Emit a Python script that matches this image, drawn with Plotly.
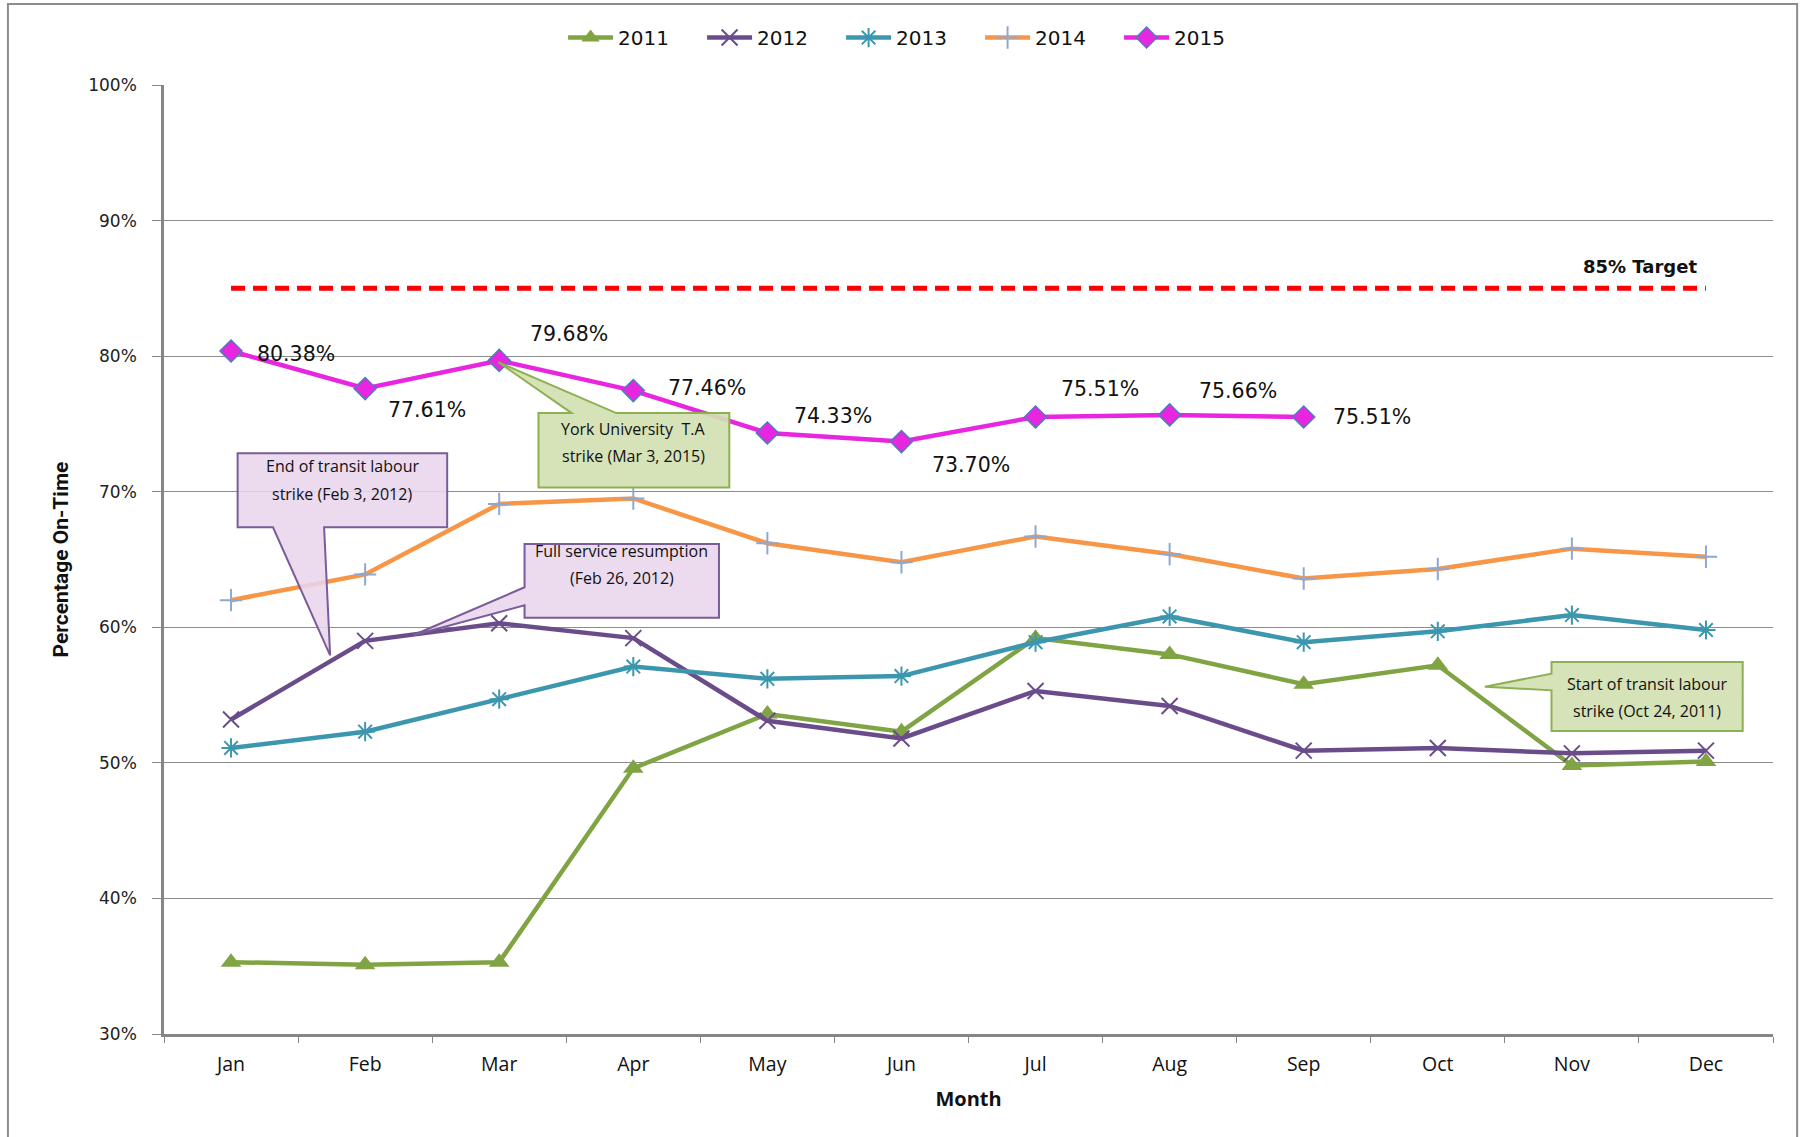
import plotly.graph_objects as go

months = ["Jan", "Feb", "Mar", "Apr", "May", "Jun", "Jul", "Aug", "Sep", "Oct", "Nov", "Dec"]
y2011 = [35.3, 35.1, 35.3, 49.6, 53.6, 52.3, 59.2, 58.0, 55.8, 57.2, 49.8, 50.1]
y2012 = [53.2, 59.0, 60.3, 59.2, 53.1, 51.8, 55.3, 54.2, 50.9, 51.1, 50.7, 50.9]
y2013 = [51.1, 52.3, 54.7, 57.1, 56.2, 56.4, 58.9, 60.8, 58.9, 59.7, 60.9, 59.8]
y2014 = [62.0, 63.9, 69.1, 69.5, 66.2, 64.8, 66.7, 65.4, 63.6, 64.3, 65.8, 65.2]
y2015 = [80.38, 77.61, 79.68, 77.46, 74.33, 73.70, 75.51, 75.66, 75.51]
target = 85
ytick_vals = [30, 40, 50, 60, 70, 80, 90, 100]
ytick_text = [f"{v}%" for v in ytick_vals]

# label offsets (px) for 2015 data labels
lab_dx = [24, 21, 29, 33, 25, 29, 23, 27, 27]
lab_dy = [-3, -21, 26, 3, 17, -23, 28, 24, 0]

fig = go.Figure()

series = [
    ("2011", y2011, "#80A444", dict(symbol="triangle-up", size=18, color="#80A444",
                                     line=dict(width=0))),
    ("2012", y2012, "#6B4C8A", dict(symbol="x-thin", size=16, color="#6B4C8A",
                                     line=dict(width=2, color="#6B4C8A"))),
    ("2013", y2013, "#3C97AE", dict(symbol="asterisk", size=16, color="#3C97AE",
                                     line=dict(width=2, color="#3C97AE"))),
    ("2014", y2014, "#F79646", dict(symbol="cross-thin", size=16, color="#8EA8D2",
                                     line=dict(width=2, color="#8EA8D2"))),
    ("2015", y2015, "#E826E0", dict(symbol="diamond", size=17, color="#E826E0",
                                     line=dict(width=1.5, color="#4A7EBB"))),
]

fig.add_trace(go.Scatter(x=months, y=[target] * len(months), mode="lines",
                         line=dict(color="#FF0000", width=5, dash="14px,8px"),
                         showlegend=False, hoverinfo="skip"))

for name, ys, col, mk in series:
    fig.add_trace(go.Scatter(x=months[:len(ys)], y=ys, name=name, mode="lines+markers",
                             line=dict(color=col, width=4.5), marker=mk))

annotations = []
for i, v in enumerate(y2015):
    annotations.append(dict(x=months[i], y=v, xref="x", yref="y", text=f"{v:.2f}%",
                            showarrow=False, xanchor="left", yanchor="middle",
                            xshift=lab_dx[i], yshift=lab_dy[i],
                            font=dict(family="DejaVu Sans", size=20.5, color="#111")))

annotations.append(dict(x=10.51, y=86.6, xref="x", yref="y", text="<b>85% Target</b>",
                        showarrow=False, font=dict(family="DejaVu Sans", size=18, color="#111")))

pink_fill = "rgba(233,213,236,0.88)"
pink_line = "#7A5C98"
green_fill = "rgba(210,224,178,0.92)"
green_line = "#8DB152"

callouts = [
    ([(0.049, 72.84), (1.612, 72.84), (1.612, 67.38), (0.694, 67.38), (0.739, 57.93),
      (0.313, 67.38), (0.049, 67.38)], pink_fill, pink_line,
     ["End of transit labour", "strike (Feb 3, 2012)"], 0.83, [71.88, 69.82]),
    ([(2.189, 66.15), (3.639, 66.15), (3.639, 60.70), (2.189, 60.70), (2.189, 61.62),
      (1.358, 59.41), (2.189, 62.95)], pink_fill, pink_line,
     ["Full service resumption", "(Feb 26, 2012)"], 2.914, [65.61, 63.62]),
    ([(2.293, 75.80), (2.540, 75.80), (1.994, 79.55), (2.873, 75.80), (3.716, 75.80),
      (3.716, 70.32), (2.293, 70.32)], green_fill, green_line,
     ["York University  T.A", "strike (Mar 3, 2015)"], 3.0, [74.66, 72.62]),
    ([(9.848, 57.44), (11.274, 57.44), (11.274, 52.35), (9.848, 52.35), (9.848, 55.35),
      (9.351, 55.62), (9.848, 56.58)], green_fill, green_line,
     ["Start of transit labour", "strike (Oct 24, 2011)"], 10.561, [55.84, 53.80]),
]

shapes = []
for pts, fill, lc, lines, cx, cys in callouts:
    path = "M " + " L ".join(f"{x},{y}" for x, y in pts) + " Z"
    shapes.append(dict(type="path", path=path, xref="x", yref="y", fillcolor=fill,
                       line=dict(color=lc, width=2), layer="above"))
    for txt, cy in zip(lines, cys):
        annotations.append(dict(x=cx, y=cy, xref="x", yref="y", text=txt, showarrow=False,
                                font=dict(family="Open Sans", size=16, color="#111")))

# outer chart border
shapes.append(dict(type="rect", xref="paper", yref="paper", x0=-0.097, x1=1.015,
                   y0=-0.12, y1=1.0853, line=dict(color="#8C8C8C", width=2),
                   fillcolor="rgba(0,0,0,0)", layer="below"))

fig.update_layout(
    width=1801, height=1137,
    margin=dict(l=164, r=28, t=85, b=103),
    paper_bgcolor="white", plot_bgcolor="white",
    showlegend=True,
    legend=dict(orientation="h", x=0.464, xanchor="center", y=1.05, yanchor="middle",
                font=dict(family="DejaVu Sans", size=20, color="#111"),
                itemwidth=45, entrywidth=79, entrywidthmode="pixels", tracegroupgap=0),
    xaxis=dict(type="category", range=[-0.5, 11.5], showgrid=False,
               showline=True, linecolor="#868686", linewidth=3,
               ticks="outside", tickson="boundaries", ticklen=6, tickcolor="#868686",
               tickwidth=1, ticklabelstandoff=11,
               tickfont=dict(family="Open Sans", size=19.5, color="#111"),
               title=dict(text="<b>Month</b>", standoff=16,
                          font=dict(family="Open Sans", size=20, color="#111"))),
    yaxis=dict(range=[30, 100], tickvals=ytick_vals, ticktext=ytick_text,
               showgrid=True, gridcolor="#8C8C8C", gridwidth=1,
               showline=True, linecolor="#868686", linewidth=2.5,
               ticks="outside", ticklen=9, tickcolor="#868686", ticklabelstandoff=12,
               tickfont=dict(family="DejaVu Sans", size=17, color="#222"),
               title=dict(text="<b>Percentage On-Time</b>", standoff=14,
                          font=dict(family="Liberation Sans Narrow, Roboto", size=21, color="#111"))),
    annotations=annotations,
    shapes=shapes,
)

fig.write_html("out.html", config={"displayModeBar": False},
               post_script="document.body.style.margin='0';")
